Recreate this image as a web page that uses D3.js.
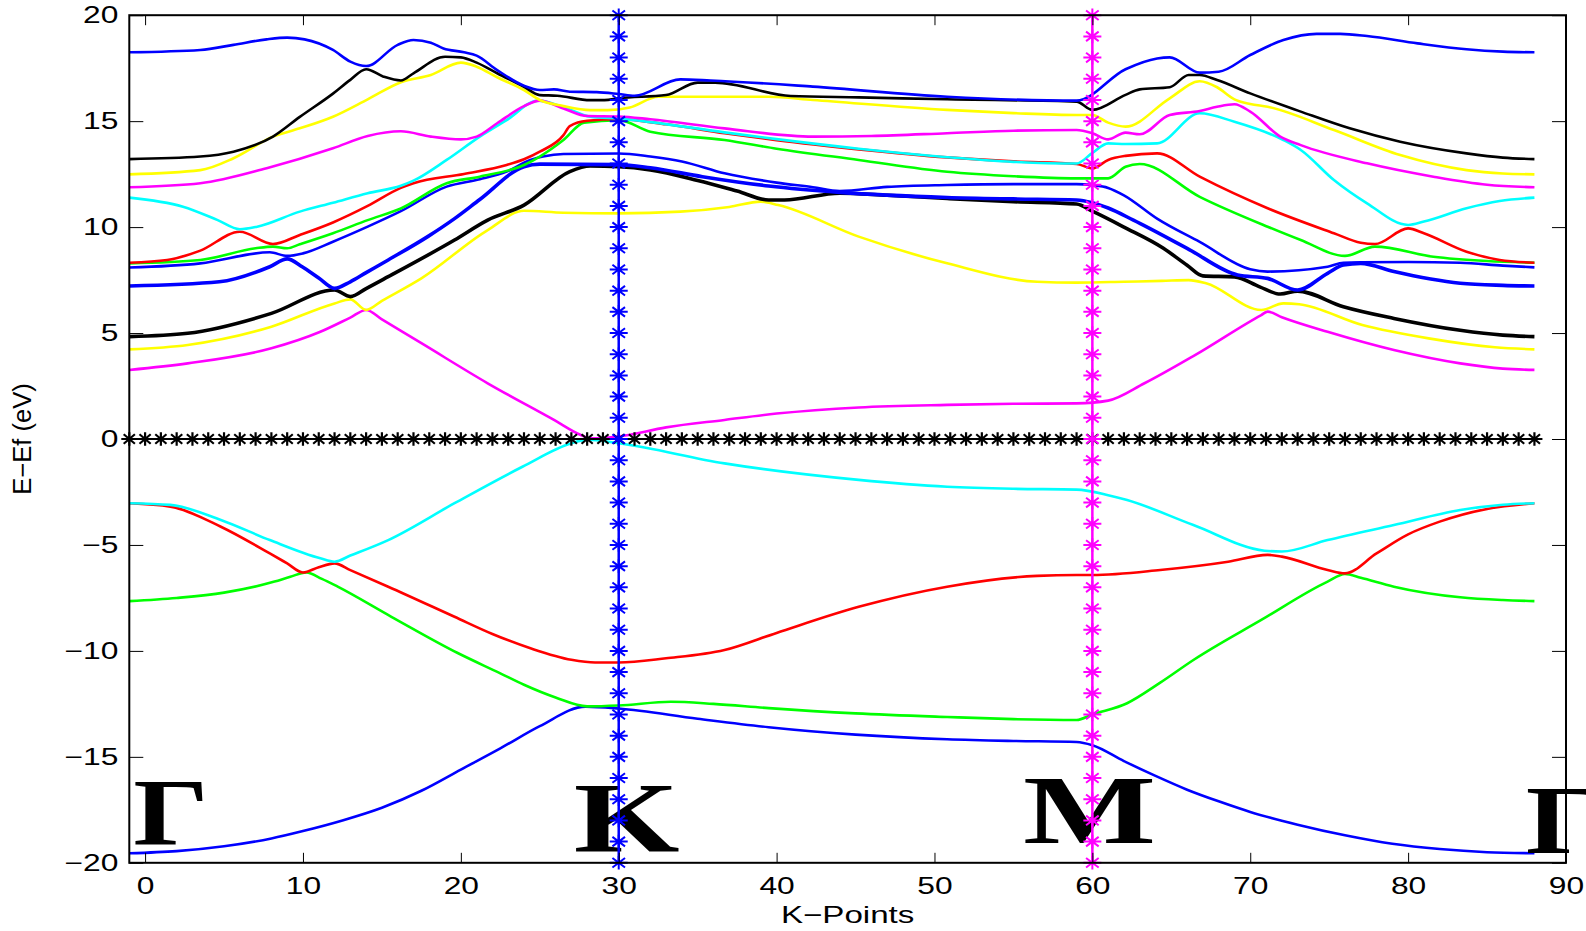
<!DOCTYPE html>
<html>
<head>
<meta charset="utf-8">
<script src="https://cdn.jsdelivr.net/npm/d3@7"></script>
<style>
  body { margin: 0; background: #fff; }
  svg { display: block; background: #fff; }
  .tick text { font-family: "Liberation Sans", Arial, sans-serif; font-size: 23px; fill: #000; }
  .tick line { stroke: #000; stroke-width: 1; }
</style>
</head>
<body>
<svg id="chart" width="1586" height="931"></svg>
<script>
// ---- band data, [k-point, E-Ef], lowest band first ----
const band01 = [[-1,-19.55],[2,-19.45],[5,-19.22],[8,-18.85],[10,-18.5],[12.5,-18.0],[15,-17.4],[17.5,-16.6],[20,-15.6],[22.5,-14.6],[25,-13.55],[27.9,-12.63],[30,-12.72],[35,-13.2],[39.5,-13.6],[45,-13.95],[50.8,-14.17],[55,-14.25],[59,-14.3],[60,-14.45],[62,-15.2],[64,-15.9],[66,-16.55],[68,-17.1],[70,-17.6],[73,-18.2],[76,-18.7],[79,-19.1],[82,-19.35],[85,-19.5],[88,-19.55]];
const band02 = [[-1,-7.65],[2,-7.5],[5,-7.25],[8.2,-6.73],[9.2,-6.5],[10.2,-6.3],[11.2,-6.6],[12.2,-6.97],[15.6,-8.39],[19.8,-10.1],[22.5,-11.06],[24,-11.6],[26,-12.2],[28,-12.62],[30,-12.58],[33.3,-12.4],[36,-12.5],[39.5,-12.7],[45,-12.95],[50.8,-13.12],[55,-13.22],[59,-13.26],[60,-13.0],[62.2,-12.47],[64.3,-11.5],[66.4,-10.43],[70.7,-8.54],[74.9,-6.73],[76,-6.37],[77,-6.55],[79.1,-6.97],[83.3,-7.47],[86,-7.6],[88,-7.65]];
const band03 = [[-1,-3.03],[1.6,-3.19],[4.8,-4.14],[7.9,-5.4],[9,-5.87],[10,-6.3],[11,-6.05],[12,-5.87],[13,-6.19],[15.4,-6.97],[19.6,-8.39],[22,-9.2],[24.5,-9.9],[27,-10.42],[28.5,-10.55],[30,-10.55],[33,-10.35],[36.7,-9.96],[40,-9.15],[45.2,-7.92],[50.8,-6.97],[56.5,-6.46],[59,-6.42],[60,-6.42],[64.3,-6.18],[68.6,-5.79],[71.1,-5.47],[72,-5.55],[74.9,-6.18],[76,-6.34],[78,-5.4],[80,-4.5],[82,-3.9],[85,-3.3],[88,-3.03]];
const band04 = [[-1,-3.03],[1.6,-3.11],[4.8,-3.82],[7.9,-4.77],[11.1,-5.63],[12,-5.79],[13,-5.5],[15.4,-4.77],[19.6,-3.03],[23.9,-1.31],[27,-0.2],[28,-0.03],[30,-0.2],[36.7,-1.15],[45.2,-1.93],[50.8,-2.25],[55,-2.35],[59,-2.39],[61,-2.65],[62.2,-2.88],[66.4,-4.06],[70.9,-5.27],[72,-5.31],[74.9,-4.77],[79.1,-4.06],[83.3,-3.35],[86,-3.1],[88,-3.03]];
const band05 = [[-1,3.26],[2.7,3.57],[8,4.28],[11.1,5.06],[13,5.73],[14,6.09],[15,5.64],[17.5,4.52],[21.7,2.63],[25.9,0.9],[27.6,0.19],[28.2,0.03],[30,0.12],[33,0.55],[36.7,0.9],[40,1.2],[45.2,1.49],[50.8,1.61],[55,1.66],[59,1.68],[61,1.81],[63.3,2.63],[66.5,3.96],[70.7,5.85],[71.1,6.01],[72,5.75],[74.9,5.06],[79.1,4.2],[83.3,3.57],[86,3.32],[88,3.26]];
const band06 = [[-1,4.23],[2.7,4.44],[8,5.3],[12,6.4],[13,6.59],[14,6.09],[15,6.52],[17.5,7.58],[21.7,9.86],[24,10.77],[26.5,10.68],[30,10.65],[33.9,10.73],[37,10.95],[39,11.2],[40.1,11.04],[45.2,9.55],[50.8,8.29],[56.5,7.42],[59,7.38],[62,7.42],[64.4,7.46],[66.1,7.5],[67.2,7.35],[70.7,6.09],[72.1,6.4],[73.1,6.36],[77.1,5.38],[81.3,4.75],[85.5,4.33],[88,4.23]];
const band07 = [[-1,4.83],[2.7,4.99],[8,5.93],[12,7.03],[13,6.72],[14,7.1],[15.4,7.66],[19.6,9.39],[21.7,10.33],[24,11.04],[26.9,12.62],[28.2,12.88],[30,12.85],[32,12.7],[35,12.2],[37.5,11.7],[39.5,11.28],[40.5,11.28],[44,11.6],[47,11.5],[50.8,11.35],[55,11.2],[59,11.09],[60,10.75],[62,10.0],[64.5,9.0],[66,8.2],[67,7.7],[69,7.65],[70.6,7.18],[71.9,6.84],[73,6.98],[75.9,6.24],[79.1,5.69],[83.3,5.13],[86,4.9],[88,4.83]];
const band08 = [[-1,7.22],[4.7,7.42],[7.9,8.13],[9,8.5],[9.95,8.13],[11,7.6],[12,7.11],[13,7.42],[14,7.85],[15.4,8.45],[17.9,9.55],[19.6,10.4],[21.2,11.3],[24,12.85],[25,12.97],[30,12.95],[32,12.8],[35.3,12.38],[39.5,11.94],[44,11.64],[50.8,11.4],[55,11.33],[59,11.28],[60,11.15],[61,10.9],[62.6,10.33],[66,9.0],[69.2,7.74],[71.1,7.58],[73,7.03],[74.9,7.82],[75.9,8.21],[77,8.29],[79.1,7.9],[83.3,7.35],[86,7.25],[88,7.22]];
const band09 = [[-1,8.09],[3.5,8.29],[7.9,8.81],[9,8.64],[10,8.76],[11.9,9.31],[14.1,10.02],[16.2,10.75],[19.1,11.91],[21.2,12.26],[22.9,12.62],[24.4,13.17],[25.2,13.33],[26.5,13.45],[30,13.47],[32,13.33],[34,13.1],[36.7,12.54],[40,12.1],[42.3,11.88],[44,11.7],[47,11.9],[50.8,11.99],[55,12.03],[59,12.03],[60,11.98],[61,11.85],[62,11.5],[64.1,10.4],[66.8,9.3],[70,8.01],[71.1,7.9],[74.9,8.13],[75.9,8.32],[77,8.34],[80,8.35],[83.3,8.32],[86,8.18],[88,8.1]];
const band10 = [[-1,8.29],[3.5,8.45],[7,9.0],[8.1,9.08],[9,9.0],[9.8,9.19],[11.9,9.71],[14.1,10.33],[16.2,10.88],[19.1,12.07],[21.2,12.38],[24,12.93],[25,13.33],[26.5,14.11],[27.8,14.93],[30,15.05],[32,14.5],[36.7,14.11],[40,13.7],[45.2,13.17],[50.8,12.61],[55,12.4],[59,12.3],[61,12.3],[62.1,12.85],[63,12.98],[66.8,11.43],[71.1,10.02],[73.2,9.39],[76,8.64],[77.9,9.08],[81.6,8.6],[85,8.4],[88,8.32]];
const band11 = [[-1,8.32],[1.4,8.45],[3.5,8.89],[6,9.78],[8.1,9.2],[9.8,9.63],[11.9,10.22],[14.1,11.0],[16.2,11.85],[17,12.07],[20.2,12.51],[22.9,12.93],[24,13.2],[25,13.56],[26.5,14.34],[26.9,14.77],[28,15.02],[30,15.09],[33,14.85],[36.7,14.43],[40,14.1],[45.2,13.67],[50.8,13.29],[55,13.1],[59,12.98],[60,12.77],[61,13.17],[62.1,13.36],[64.1,13.48],[66.8,12.38],[71.1,10.89],[75.3,9.71],[77,9.26],[77.9,9.2],[80,9.94],[81,9.71],[83.7,8.84],[85.8,8.45],[88,8.32]];
const band12 = [[-1,11.39],[2.4,10.96],[4.6,10.33],[6,9.9],[7.1,10.02],[9.8,10.73],[11.9,11.15],[14.1,11.6],[16.2,11.95],[17,12.19],[19.1,13.17],[21.2,14.27],[22.9,15.05],[24.9,15.97],[26.5,15.66],[28.2,15.21],[30,15.12],[36.7,14.47],[40,14.15],[45.2,13.7],[50.8,13.3],[55,13.08],[59,13.0],[60,13.5],[61,13.95],[62.1,13.92],[64.1,13.95],[66.8,15.37],[69,14.97],[72.1,14.11],[73.2,13.64],[75.3,12.22],[77.4,11.12],[80,10.1],[81,10.26],[83.7,10.89],[85.8,11.23],[88,11.39]];
const band13 = [[-1,11.88],[3.5,12.07],[7.7,12.78],[11.9,13.72],[14.1,14.3],[16.2,14.52],[18.1,14.27],[20,14.14],[21,14.27],[22.3,14.9],[24,15.71],[25,15.97],[26.5,15.6],[28,15.24],[30,15.22],[32,15.09],[36.7,14.66],[42.3,14.27],[46,14.3],[50.8,14.43],[55,14.55],[59,14.58],[60,14.43],[61,14.14],[62.1,14.46],[63,14.38],[64.9,15.29],[66.8,15.48],[67.9,15.68],[69,15.8],[70,15.45],[71.9,14.27],[73.2,13.87],[77.4,13.01],[81.6,12.38],[85,12.0],[88,11.88]];
const band14 = [[-1,12.49],[3.5,12.69],[5.6,13.25],[8.1,14.27],[9.8,14.66],[11.9,15.21],[14.1,16.03],[16.2,16.84],[18.1,17.18],[20,17.76],[21,17.57],[22.3,17.07],[24,16.47],[25,16.0],[26.5,15.71],[28.2,15.52],[29.3,15.52],[30.7,15.64],[32.5,16.15],[39.5,16.15],[42.3,16.0],[50.8,15.53],[55,15.38],[59,15.29],[60,15.29],[61,14.93],[62.1,14.74],[64.9,16.08],[66.8,16.88],[67.9,16.6],[69,16.03],[70,15.81],[71.1,15.68],[75.3,14.58],[79.5,13.4],[83.7,12.69],[86,12.53],[88,12.49]];
const band15 = [[-1,13.21],[3.5,13.33],[5.6,13.56],[8.1,14.27],[9.8,15.2],[11.9,16.3],[13,16.95],[14,17.45],[15.1,17.1],[16.2,16.92],[17,17.26],[19,18.04],[20,18.01],[21,17.76],[22.3,17.26],[24,16.62],[25,16.23],[26.1,16.2],[28.2,15.99],[29.1,15.99],[30,16.08],[33,16.23],[35,16.82],[36.1,16.82],[40.9,16.19],[45.2,16.12],[50.8,16.03],[59,15.92],[60,15.53],[62.1,16.24],[63,16.5],[64.9,16.6],[66.1,17.18],[66.8,17.18],[67.9,16.94],[70,16.31],[73.2,15.45],[76.3,14.66],[79.5,14.03],[83.7,13.48],[86,13.28],[88,13.21]];
const band16 = [[-1,18.25],[3.5,18.36],[5.6,18.6],[7.7,18.86],[9,18.94],[10.1,18.86],[11.9,18.36],[13,17.81],[14,17.6],[16,18.6],[17,18.83],[18.1,18.7],[18.9,18.43],[20.2,18.25],[21,18.09],[22.3,17.41],[24,16.67],[25,16.47],[25.9,16.5],[26.9,16.39],[28.6,16.37],[30,16.28],[31,16.2],[33.9,16.97],[35.8,16.92],[42.3,16.63],[50.8,16.15],[59,15.97],[62.1,17.45],[64.1,17.96],[64.9,18.01],[66.8,17.29],[68,17.33],[70,18.12],[72.1,18.83],[74.2,19.12],[75.7,19.12],[77.4,19.02],[80.6,18.67],[83.7,18.39],[86,18.28],[88,18.25]];

// Fermi level (E-Ef = 0) at every k-point, and the two high-symmetry markers
const fermiK = [-1,0,1,2,3,4,5,6,7,8,9,10,11,12,13,14,15,16,17,18,19,20,21,22,23,24,25,26,27,28,29,30,31,32,33,34,35,36,37,38,39,40,41,42,43,44,45,46,47,48,49,50,51,52,53,54,55,56,57,58,59,60,61,62,63,64,65,66,67,68,69,70,71,72,73,74,75,76,77,78,79,80,81,82,83,84,85,86,87,88];
const markerE = [-20,-19,-18,-17,-16,-15,-14,-13,-12,-11,-10,-9,-8,-7,-6,-5,-4,-3,-2,-1,0,1,2,3,4,5,6,7,8,9,10,11,12,13,14,15,16,17,18,19,20];
const symK = [30, 60];

const xTicks = [0, 10, 20, 30, 40, 50, 60, 70, 80, 90];
const yTicks = [-20, -15, -10, -5, 0, 5, 10, 15, 20];
const pointNames = ["Γ", "K", "M", "Γ"];

const bands = [band01, band02, band03, band04, band05, band06, band07, band08,
  band09, band10, band11, band12, band13, band14, band15, band16];

// ---- styles ----
const bandColor = ["#0000ff", "#00ff00", "#ff0000", "#00ffff", "#ff00ff", "#ffff00", "#000000", "#0000ff",
  "#0000ff", "#00ff00", "#ff0000", "#00ffff", "#ff00ff", "#ffff00", "#000000", "#0000ff"];
const thick = [6, 7]; // indexes drawn heavier

const svg = d3.select("#chart");
const W = +svg.attr("width"), H = +svg.attr("height");
const plotL = 129.3, plotR = 1566, plotT = 15.2, plotB = 862.8;
const sx = 1.38; // the original figure is stretched sideways

const x = d3.scaleLinear().domain([-1, 90]).range([plotL, plotR]);
const y = d3.scaleLinear().domain([-20, 20]).range([plotB, plotT]);

svg.append("rect").attr("width", W).attr("height", H).attr("fill", "#fff");

// bands
const bandLine = d3.line()
  .x(d => x(d[0]))
  .y(d => y(d[1]))
  .curve(d3.curveMonotoneX);

const bandG = svg.append("g");
bands.forEach((b, i) => {
  bandG.append("path")
    .datum(b)
    .attr("fill", "none")
    .attr("stroke", bandColor[i])
    .attr("stroke-width", thick.includes(i) ? 3.6 : 2.6)
    .attr("stroke-linejoin", "round")
    .attr("d", bandLine);
});

// asterisk marker like matlab '*'
function star(w, h) {
  const a = w * 0.7, b = h * 0.7;
  return `M${-w},0H${w}M0,${-h}V${h}M${-a},${-b}L${a},${b}M${-a},${b}L${a},${-b}`;
}

// Fermi line
svg.append("path")
  .datum(fermiK)
  .attr("fill", "none")
  .attr("stroke", "#000")
  .attr("stroke-width", 2)
  .attr("d", d3.line().x(d => x(d)).y(() => y(0)));

svg.append("g").selectAll("path")
  .data(fermiK)
  .join("path")
  .attr("transform", d => `translate(${x(d)},${y(0)})`)
  .attr("d", star(8, 6.8))
  .attr("fill", "none")
  .attr("stroke", "#000")
  .attr("stroke-width", 2.2);

// high-symmetry point names
const names = svg.append("g")
  .attr("font-family", "'Liberation Serif', 'Times New Roman', serif")
  .attr("font-weight", "bold")
  .attr("fill", "#000");

names.append("text")
  .attr("transform", `translate(${x(-0.75)},${y(-19.16)}) scale(1.25,1)`)
  .attr("font-size", 95)
  .text(pointNames[0]);

names.append("text")
  .attr("transform", `translate(${x(27.15)},${y(-19.43)}) scale(1.36,1)`)
  .attr("font-size", 100)
  .text(pointNames[1]);

names.append("text")
  .attr("transform", `translate(${x(55.6)},${y(-19.07)}) scale(1.44,1)`)
  .attr("font-size", 98)
  .text(pointNames[2]);

names.append("text")
  .attr("transform", `translate(${x(87.45)},${y(-19.54)}) scale(1.25,1)`)
  .attr("font-size", 97)
  .text(pointNames[3]);

// vertical K and M lines with markers
const symColor = ["#0000ff", "#ff00ff"];
symK.forEach((k, i) => {
  svg.append("line")
    .attr("x1", x(k)).attr("x2", x(k))
    .attr("y1", y(-20)).attr("y2", y(20))
    .attr("stroke", symColor[i])
    .attr("stroke-width", 2.5);
  svg.append("g").selectAll("path")
    .data(markerE)
    .join("path")
    .attr("transform", d => `translate(${x(k)},${y(d)})`)
    .attr("d", star(9, 6.8))
    .attr("fill", "none")
    .attr("stroke", symColor[i])
    .attr("stroke-width", 2);
});

// axes, ticks pointing in on all four sides
const xAxis = svg.append("g")
  .attr("transform", `translate(0,${plotB})`)
  .call(d3.axisBottom(x).tickValues(xTicks).tickSizeInner(-10).tickSizeOuter(0)
    .tickPadding(15).tickFormat(d3.format("d")));
xAxis.selectAll(".tick text").attr("transform", `scale(${sx},1)`);

const yAxis = svg.append("g")
  .attr("transform", `translate(${plotL},0)`)
  .call(d3.axisLeft(y).tickValues(yTicks).tickSizeInner(-14).tickSizeOuter(0)
    .tickPadding(11 / sx).tickFormat(d3.format("d")));
yAxis.selectAll(".tick text").attr("transform", `scale(${sx},1)`);

svg.append("g")
  .attr("transform", `translate(0,${plotT})`)
  .call(d3.axisTop(x).tickValues(xTicks).tickSizeInner(-10).tickSizeOuter(0).tickFormat(""));

svg.append("g")
  .attr("transform", `translate(${plotR},0)`)
  .call(d3.axisRight(y).tickValues(yTicks).tickSizeInner(-14).tickSizeOuter(0).tickFormat(""));

svg.selectAll(".domain").remove();

svg.append("rect")
  .attr("x", plotL).attr("y", plotT)
  .attr("width", plotR - plotL).attr("height", plotB - plotT)
  .attr("fill", "none")
  .attr("stroke", "#000")
  .attr("stroke-width", 2);

// axis labels
svg.append("text")
  .attr("transform", `translate(${(plotL + plotR) / 2},923) scale(${sx},1)`)
  .attr("text-anchor", "middle")
  .attr("font-family", "'Liberation Sans', Arial, sans-serif")
  .attr("font-size", 24)
  .text("K\u2212Points");

svg.append("text")
  .attr("transform", `translate(31,${(plotT + plotB) / 2}) rotate(-90)`)
  .attr("text-anchor", "middle")
  .attr("font-family", "'Liberation Sans', Arial, sans-serif")
  .attr("font-size", 25.5)
  .text("E\u2212Ef (eV)");
</script>
</body>
</html>
